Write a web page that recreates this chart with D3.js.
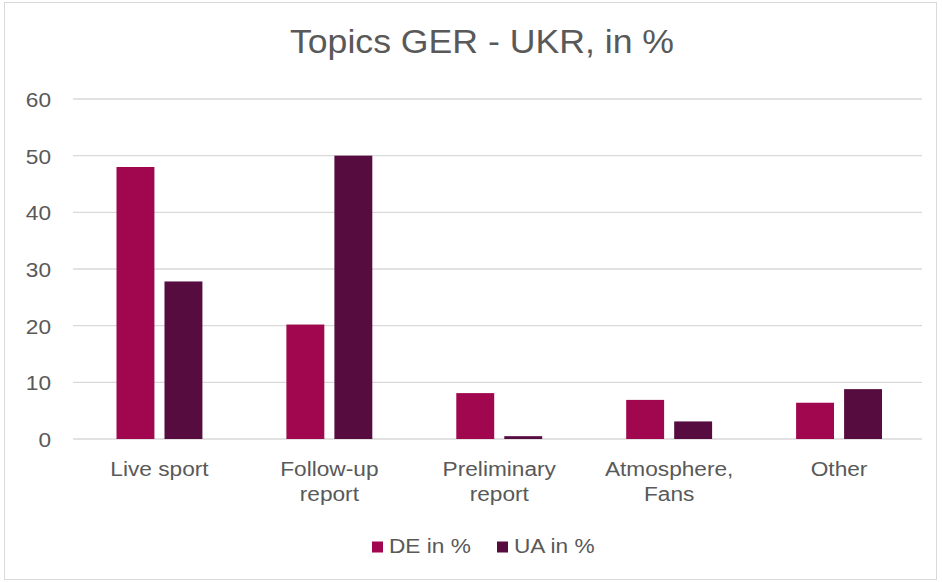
<!DOCTYPE html>
<html>
<head>
<meta charset="utf-8">
<script src="https://cdn.jsdelivr.net/npm/d3@7"></script>
<style>
  body { margin: 0; background: #fff; }
  text { font-family: Arial, "Liberation Sans", sans-serif; fill: #595959; }
</style>
</head>
<body>
<script>
const WIDTH = 942
const HEIGHT = 582
const SX = 1.08 // léger étirement horizontal du texte

// Données
const categories = [["Live sport"], ["Follow-up", "report"], ["Preliminary", "report"], ["Atmosphere,", "Fans"], ["Other"]]
const seriesNames = ["DE in %", "UA in %"]
const deValues = [48, 20.2, 8.1, 6.9, 6.4]
const uaValues = [27.8, 50, 0.5, 3.1, 8.8]
const yTicks = [0, 10, 20, 30, 40, 50, 60]
const colors = ["#a0074f", "#560c3f"]

const place = (x, y) => "translate(" + x + "," + y + ") scale(" + SX + ",1)"

const svg = d3.select("body").append("svg")
    .attr("width", WIDTH)
    .attr("height", HEIGHT)

// Cadre
svg.append("rect")
    .attr("x", 4.5).attr("y", 2.5)
    .attr("width", 932).attr("height", 577)
    .attr("fill", "#fff")
    .attr("stroke", "#d9d9d9")

// Titre
svg.append("text")
    .attr("transform", place(482, 53))
    .attr("text-anchor", "middle")
    .attr("font-size", 33)
    .text("Topics GER - UKR, in %")

const x = d3.scaleBand()
    .domain(d3.range(categories.length))
    .range([74.5, 924])

const xInner = d3.scaleBand()
    .domain([0, 1])
    .range([0, x.bandwidth()])
    .paddingInner(0.21)
    .paddingOuter(0.875)

const y = d3.scaleLinear()
    .domain([0, 60])
    .range([439, 99])

// Grille
svg.append("g").selectAll("line")
    .data(yTicks)
    .enter().append("line")
    .attr("x1", 73).attr("x2", 922)
    .attr("y1", d => y(d)).attr("y2", d => y(d))
    .attr("stroke", "#d9d9d9")
    .attr("stroke-width", 1.3)

svg.append("g").selectAll("text")
    .data(yTicks)
    .enter().append("text")
    .attr("transform", d => place(51, y(d) + 8))
    .attr("text-anchor", "end")
    .attr("font-size", 21)
    .text(d => d)

// Barres
const series = [deValues, uaValues]
series.forEach((vals, s) => {
    svg.append("g").selectAll("rect")
        .data(vals)
        .enter().append("rect")
        .attr("x", (d, i) => x(i) + xInner(s))
        .attr("y", d => y(d))
        .attr("width", xInner.bandwidth())
        .attr("height", d => y(0) - y(d))
        .attr("fill", colors[s])
})

// Étiquettes catégories
const cat = svg.append("g").selectAll("text")
    .data(categories)
    .enter().append("text")
    .attr("text-anchor", "middle")
    .attr("font-size", 21)
    .attr("transform", (d, i) => place(x(i) + x.bandwidth() / 2, 476))

cat.selectAll("tspan")
    .data(d => d)
    .enter().append("tspan")
    .attr("x", 0)
    .attr("dy", (d, i) => i === 0 ? 0 : 25)
    .text(d => d)

// Légende
const legendX = [372, 497]
seriesNames.forEach((name, s) => {
    svg.append("rect")
        .attr("x", legendX[s]).attr("y", 541.5)
        .attr("width", 11).attr("height", 11)
        .attr("fill", colors[s])
    svg.append("text")
        .attr("transform", place(legendX[s] + 17, 553))
        .attr("font-size", 21)
        .text(name)
})
</script>
</body>
</html>
